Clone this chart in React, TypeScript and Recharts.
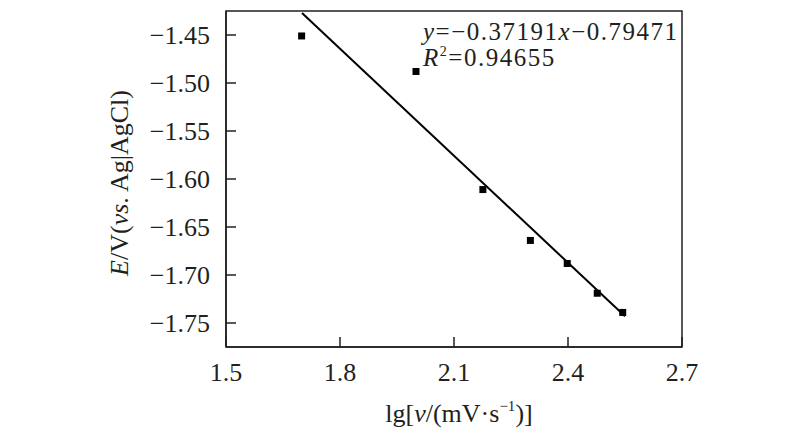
import React from 'react';
import { ScatterChart, Scatter, XAxis, YAxis, ReferenceLine, ReferenceArea } from 'recharts';

// measured points: lg(scan rate) vs peak potential
const lgScanRate = [1.699, 2.0, 2.176, 2.301, 2.398, 2.477, 2.544];
const peakPotential = [-1.451, -1.488, -1.611, -1.664, -1.688, -1.719, -1.739];

// fitted line end points
const fitX = [1.70, 2.55];
const fitY = [-1.427, -1.743];

const xTicks = [1.5, 1.8, 2.1, 2.4, 2.7];
const yTicks = [-1.75, -1.7, -1.65, -1.6, -1.55, -1.5, -1.45];

const points = lgScanRate.map((x, i) => ({ x, y: peakPotential[i] }));
const fitSegment = fitX.map((x, i) => ({ x, y: fitY[i] }));

const ink = '#231f20';
const font = '"Liberation Serif", "Times New Roman", serif';

const SquareDot = (props: any) => {
  const { cx, cy } = props;
  return <rect x={cx - 3.5} y={cy - 3.5} width={7} height={7} fill="#000" />;
};

const App: React.FC = () => {
  return (
    <div style={{ position: 'relative', width: 800, height: 442, margin: -8, fontFamily: font, color: ink }}>
      <ScatterChart width={800} height={442} margin={{ top: 11, right: 118, bottom: 35, left: 166 }}>
        <XAxis
          type="number"
          dataKey="x"
          domain={[1.5, 2.7]}
          ticks={xTicks}
          tickFormatter={(v: number) => v.toFixed(1)}
          height={60}
          tickSize={-10}
          tickMargin={26}
          axisLine={{ stroke: ink, strokeWidth: 1.5 }}
          tickLine={{ stroke: ink, strokeWidth: 1.5 }}
          tick={{ fill: ink, fontSize: 26, fontFamily: font }}
        />
        <YAxis
          type="number"
          dataKey="y"
          domain={[-1.775, -1.425]}
          ticks={yTicks}
          tickFormatter={(v: number) => v.toFixed(2).replace('-', '\u2212')}
          width={60}
          tickSize={-10}
          tickMargin={26}
          axisLine={{ stroke: ink, strokeWidth: 1.5 }}
          tickLine={{ stroke: ink, strokeWidth: 1.5 }}
          tick={{ fill: ink, fontSize: 26, fontFamily: font }}
        />
        <ReferenceArea x1={1.5} x2={2.7} y1={-1.775} y2={-1.425} fill="none" fillOpacity={0} stroke={ink} strokeWidth={1.5} />
        <ReferenceLine segment={fitSegment} stroke="#000" strokeWidth={2} />
        <Scatter data={points} shape={SquareDot} isAnimationActive={false} />
      </ScatterChart>

      {/* regression equation */}
      <div
        style={{
          position: 'absolute',
          left: 423,
          top: 19,
          fontSize: 25,
          lineHeight: '26px',
          letterSpacing: 1.5,
          whiteSpace: 'nowrap',
        }}
      >
        <div>
          <i>y</i>=−0.37191<i>x</i>−0.79471
        </div>
        <div>
          <i>R</i>
          <sup style={{ fontSize: 14, verticalAlign: 'top', lineHeight: '14px' }}>2</sup>=0.94655
        </div>
      </div>

      {/* y axis title */}
      <div
        style={{
          position: 'absolute',
          left: 120,
          top: 183,
          transform: 'translate(-50%, -50%) rotate(-90deg)',
          fontSize: 26,
          whiteSpace: 'nowrap',
        }}
      >
        <i>E</i>/V(<i>vs</i>. Ag|AgCl)
      </div>

      {/* x axis title */}
      <div
        style={{
          position: 'absolute',
          left: 459,
          top: 414,
          transform: 'translate(-50%, -50%)',
          fontSize: 26,
          whiteSpace: 'nowrap',
        }}
      >
        lg[<i>v</i>/(mV·s<sup style={{ fontSize: 15, verticalAlign: 'top', lineHeight: '14px' }}>−1</sup>)]
      </div>
    </div>
  );
};

export default App;
